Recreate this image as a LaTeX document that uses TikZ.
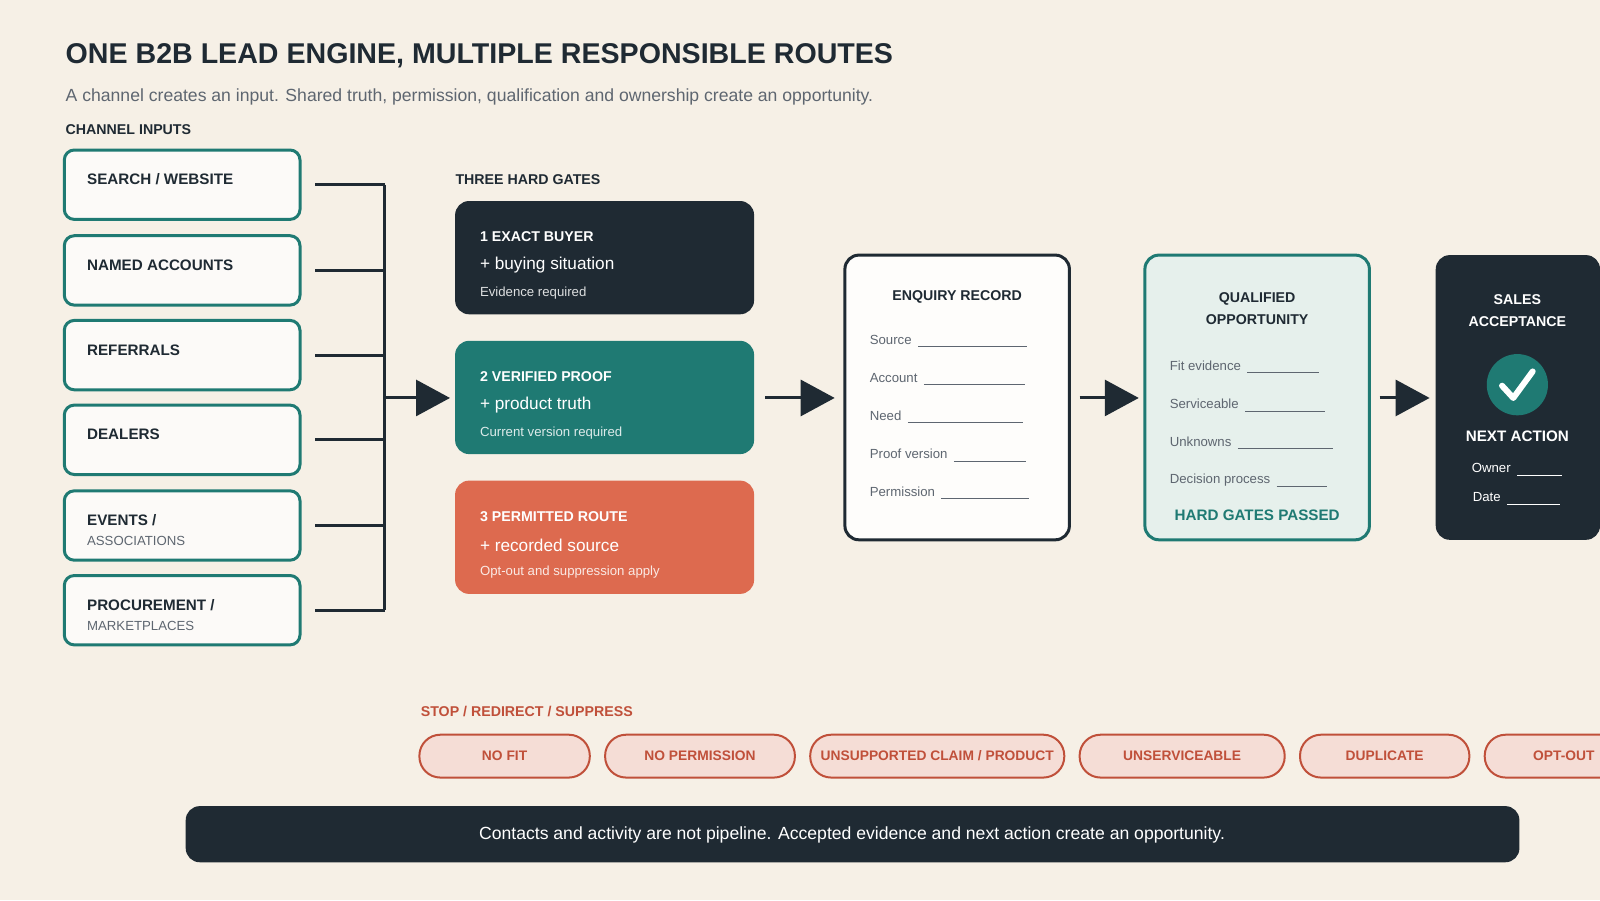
\documentclass[tikz,border=0pt]{standalone}
\usepackage{fontspec}
\setmainfont{Liberation Sans}
\usetikzlibrary{arrows.meta,positioning}
\definecolor{paper}{HTML}{F6F0E6}
\definecolor{ink}{HTML}{1F2A33}
\definecolor{teal}{HTML}{1F7A73}
\definecolor{coral}{HTML}{DD6A4F}
\definecolor{stopred}{HTML}{C0503A}
\definecolor{pill}{HTML}{F5DDD6}
\definecolor{mist}{HTML}{E6F0EC}
\definecolor{grey}{HTML}{5E6670}
\tikzset{
  chanbox/.style={draw=teal,line width=1.5pt,fill=white!70!paper,rounded corners=5pt},
  gatebox/.style={rounded corners=7pt},
  recbox/.style={line width=1.5pt,rounded corners=7pt},
  stoppill/.style={draw=stopred,line width=1pt,fill=pill,rounded corners=10.5pt},
  flow/.style={line width=1.5pt,draw=ink,-{Triangle[length=17pt,width=18pt]}},
  lbl/.style={anchor=west,inner sep=0pt,font=\bfseries\fontsize{7.1}{8}\selectfont,text=ink},
  fld/.style={anchor=west,inner sep=0pt,font=\fontsize{6.6}{8}\selectfont,text=grey},
  rule/.style={line width=0.4pt},
}
\begin{document}
\begin{tikzpicture}[x=0.5102pt,y=-0.5102pt]
  \fill[paper] (0,0) rectangle (1568,882);
  \useasboundingbox (0,0) rectangle (1568,882);
  % heading
  \node[anchor=west,inner sep=0pt,font=\bfseries\fontsize{14.3}{16}\selectfont,text=ink] (title) at (64,55) {ONE B2B LEAD ENGINE, MULTIPLE RESPONSIBLE ROUTES};
  \node[anchor=west,inner sep=0pt,font=\fontsize{8.8}{10}\selectfont,text=grey] (sub) at (64,95) {A channel creates an input. Shared truth, permission, qualification and ownership create an opportunity.};
  \node[lbl] (chanhead) at (64,127) {CHANNEL INPUTS};

  % channels
  \coordinate (junction) at (377,390);
  \foreach \y/\a/\b [count=\i] in {181/{SEARCH / WEBSITE}/,265/NAMED ACCOUNTS/,348/REFERRALS/,431/DEALERS/,515/{EVENTS /}/ASSOCIATIONS,598/{PROCUREMENT /}/MARKETPLACES} {
    \draw[chanbox] (63,\y-34) rectangle (294,\y+34);
    \coordinate (c\i) at (294,\y);
    \ifx\relax\b\relax
      \node[lbl,font=\bfseries\fontsize{7.6}{9}\selectfont] (ct\i) at (85,\y+2) {\a};
    \else
      \node[lbl,font=\bfseries\fontsize{7.6}{9}\selectfont] (ct\i) at (85,\y-5) {\a};
      \node[fld,text=grey] (cs\i) at (85,\y+15) {\b};
    \fi
    \draw[line width=1.5pt,ink] ([xshift=7.5pt]c\i) -- (377,\y);
  }
  \draw[line width=1.5pt,ink] (377,181) -- (377,598);

  % gates
  \node[lbl] (gatehead) at (446,176) {THREE HARD GATES};
  \foreach \y/\col/\a/\b/\c [count=\i] in {197/ink/1 EXACT BUYER/+ buying situation/Evidence required,
      334/teal/2 VERIFIED PROOF/+ product truth/Current version required,
      471/coral/3 PERMITTED ROUTE/+ recorded source/Opt-out and suppression apply} {
    \fill[gatebox,\col] (446,\y) rectangle (739,\y+111);
    \node[lbl,text=white] (g\i a) at (470,\y+35) {\a};
    \node[anchor=west,inner sep=0pt,font=\fontsize{8.6}{10}\selectfont,text=white] (g\i b) at (470,\y+63) {\b};
    \node[fld,text=white!85!\col] (g\i c) at (470,\y+90) {\c};
  }
  \coordinate (gatein) at (441,390);
  \draw[flow] (junction) -- (gatein);

  % enquiry record
  \draw[recbox,draw=ink,fill=white!85!paper] (828,250) rectangle (1048,529);
  \node[lbl,anchor=center] (rechead) at (938,291) {ENQUIRY RECORD};
  \foreach \y/\t/\e [count=\i] in {333/Source/1006,370/Account/1004,407/Need/1003,445/Proof version/1005,482/Permission/1008} {
    \node[fld] (r\i) at (852,\y) {\t};
    \coordinate (re\i) at (\e,0);
    \draw[grey,rule] ([xshift=3pt,yshift=-3.5pt]r\i.east) -- ([yshift=-3.5pt]r\i.east -| re\i);
  }
  \coordinate (gateout) at (750,390);
  \coordinate (recin) at (818,390);
  \draw[flow] (gateout) -- (recin);

  % qualified opportunity
  \draw[recbox,draw=teal,fill=mist] (1122,250) rectangle (1342,529);
  \node[lbl,anchor=center,align=center,font=\bfseries\fontsize{7.1}{11}\selectfont] (qhead) at (1232,302) {QUALIFIED\\OPPORTUNITY};
  \foreach \y/\t/\e [count=\i] in {358/Fit evidence/1293,396/Serviceable/1298,433/Unknowns/1306,470/Decision process/1300} {
    \node[fld] (q\i) at (1146,\y) {\t};
    \coordinate (qe\i) at (\e,0);
    \draw[grey,rule] ([xshift=3pt,yshift=-3.5pt]q\i.east) -- ([yshift=-3.5pt]q\i.east -| qe\i);
  }
  \node[lbl,anchor=center,text=teal,font=\bfseries\fontsize{7.6}{9}\selectfont] (passed) at (1232,505) {HARD GATES PASSED};
  \coordinate (recout) at (1058,390);
  \coordinate (qin) at (1116,390);
  \draw[flow] (recout) -- (qin);

  % sales acceptance
  \fill[gatebox,ink] (1407,250) rectangle (1568,529);
  \node[lbl,anchor=center,align=center,text=white,font=\bfseries\fontsize{7.1}{11}\selectfont] (shead) at (1487,304) {SALES\\ACCEPTANCE};
  \fill[teal] (1487,377) circle (30);
  \draw[white,line width=3pt,line cap=round,line join=round] (1472,378) -- (1483,390) -- (1502,364);
  \node[lbl,anchor=center,text=white,font=\bfseries\fontsize{7.6}{9}\selectfont] (next) at (1487,428) {NEXT ACTION};
  \node[fld,text=white] (own) at (1442,459) {Owner};
  \coordinate (oe) at (1531,0);
  \draw[white,rule] ([xshift=3pt,yshift=-3.5pt]own.east) -- ([yshift=-3.5pt]own.east -| oe);
  \node[fld,text=white] (dat) at (1443,487) {Date};
  \coordinate (de) at (1529,0);
  \draw[white,rule] ([xshift=3pt,yshift=-3.5pt]dat.east) -- ([yshift=-3.5pt]dat.east -| de);
  \coordinate (qout) at (1352,390);
  \coordinate (sin) at (1401,390);
  \draw[flow] (qout) -- (sin);

  % stop row
  \node[lbl,text=stopred] (stophead) at (412,697) {STOP / REDIRECT / SUPPRESS};
  \foreach \l/\r/\t [count=\i] in {411/578/NO FIT,593/779/NO PERMISSION,794/1043/{UNSUPPORTED CLAIM / PRODUCT},1058/1259/UNSERVICEABLE,1274/1440/DUPLICATE,1455/1610/OPT-OUT} {
    \draw[stoppill] (\l,720) rectangle (\r,762);
    \node[inner sep=0pt,font=\bfseries\fontsize{6.9}{8}\selectfont,text=stopred] (s\i) at ({(\l+\r)/2},741) {\t};
  }

  % footer
  \fill[rounded corners=7pt,ink] (182,790) rectangle (1489,845);
  \node[inner sep=0pt,font=\fontsize{8.8}{10}\selectfont,text=white] (foot) at (835,818) {Contacts and activity are not pipeline. Accepted evidence and next action create an opportunity.};
\end{tikzpicture}
\end{document}
